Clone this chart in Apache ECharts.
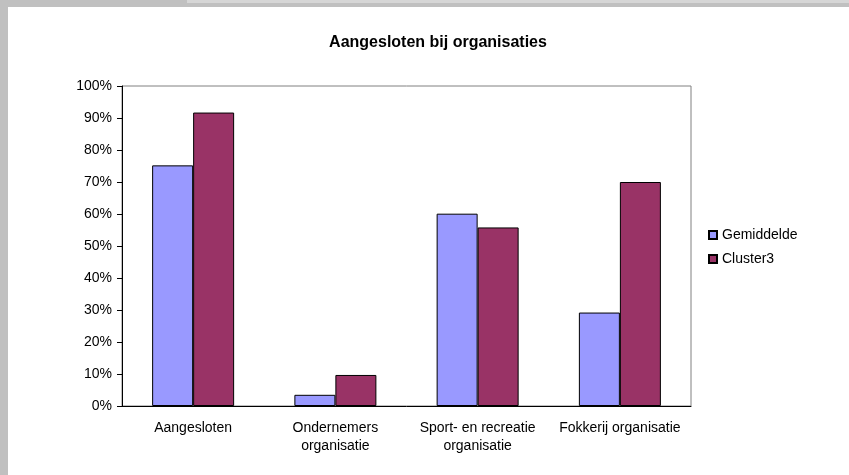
<!DOCTYPE html>
<html>
<head>
<meta charset="utf-8">
<script src="https://cdn.jsdelivr.net/npm/echarts@6/dist/echarts.min.js"></script>
<style>
  html, body { margin: 0; padding: 0; background: #fff; }
  #main { width: 849px; height: 475px; }
</style>
</head>
<body>
<div id="main"></div>
<script>
// data
var categories = ["Aangesloten", "Ondernemers\norganisatie", "Sport- en recreatie\norganisatie", "Fokkerij organisatie"];
var gemiddelde = [75.2, 3.5, 60.1, 29.2];
var cluster3 = [91.7, 9.7, 55.8, 70.0];
var yTicks = { min: 0, max: 100, interval: 10 };

var chart = echarts.init(document.getElementById("main"));
var font = "Arial, 'Liberation Sans', sans-serif";

chart.setOption({
  animation: false,
  backgroundColor: "#fff",
  graphic: [
    // grijze rand van het werkblad
    { type: "rect", shape: { x: 0, y: 0, width: 849, height: 7 }, style: { fill: "#c0c0c0" }, silent: true },
    { type: "rect", shape: { x: 187, y: 0, width: 662, height: 3 }, style: { fill: "#d6d6d6" }, silent: true },
    { type: "rect", shape: { x: 0, y: 0, width: 8, height: 475 }, style: { fill: "#c0c0c0" }, silent: true }
  ],
  title: {
    text: "Aangesloten bij organisaties",
    left: 433,
    top: 30,
    textAlign: "center",
    textStyle: { fontFamily: font, fontSize: 16, fontWeight: "bold", color: "#000" }
  },
  legend: {
    orient: "vertical",
    left: 703,
    top: 223,
    icon: "rect",
    itemWidth: 8,
    itemHeight: 8,
    itemGap: 10,
    textStyle: { fontFamily: font, fontSize: 14, color: "#000" },
    data: ["Gemiddelde", "Cluster3"]
  },
  grid: {
    left: 122,
    right: 158,
    top: 86,
    height: 320,
    show: true,
    borderColor: "#808080",
    borderWidth: 1
  },
  xAxis: {
    type: "category",
    data: categories,
    axisLine: { lineStyle: { color: "#000" } },
    axisTick: { length: 5, lineStyle: { color: "#000" } },
    axisLabel: { fontFamily: font, fontSize: 14, color: "#000", margin: 13, lineHeight: 18, interval: 0 },
    splitLine: { show: false }
  },
  yAxis: {
    type: "value",
    min: yTicks.min,
    max: yTicks.max,
    interval: yTicks.interval,
    axisLine: { show: true, lineStyle: { color: "#000" } },
    axisTick: { show: true, length: 5, lineStyle: { color: "#000" } },
    axisLabel: { fontFamily: font, fontSize: 14, color: "#000", margin: 10, formatter: "{value}%" },
    splitLine: { show: false }
  },
  series: [
    {
      name: "Gemiddelde",
      type: "bar",
      data: gemiddelde,
      barWidth: 41,
      barGap: "0%",
      itemStyle: { color: "#9999ff", borderColor: "#000", borderWidth: 1 }
    },
    {
      name: "Cluster3",
      type: "bar",
      data: cluster3,
      barWidth: 41,
      itemStyle: { color: "#993366", borderColor: "#000", borderWidth: 1 }
    }
  ]
});
</script>
</body>
</html>
